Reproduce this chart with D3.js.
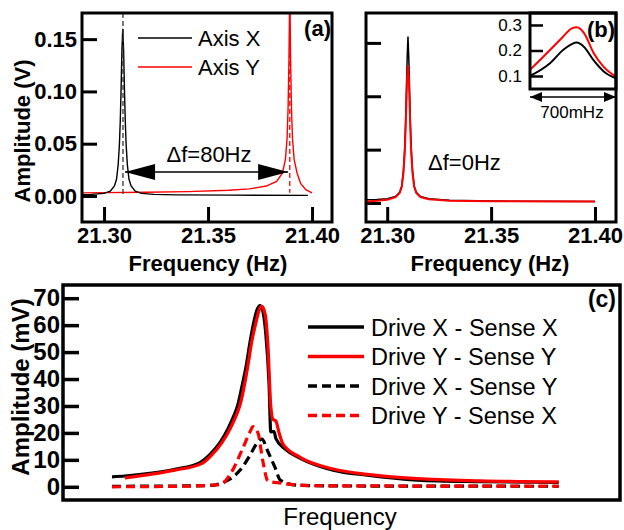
<!DOCTYPE html>
<html>
<head>
<meta charset="utf-8">
<script src="https://cdnjs.cloudflare.com/ajax/libs/d3/7.8.5/d3.min.js"></script>
<style>
  body { margin: 0; background: #fff; }
  svg { display: block; font-family: "Liberation Sans", Arial, sans-serif; }
  .axis text { fill: #000; }
  .axis line { stroke: #000; }
</style>
</head>
<body>
<svg width="624" height="530"></svg>
<script>
// (a) separate resonances
var freqAxisX = [21.2894, 21.294, 21.300, 21.303, 21.305, 21.306, 21.3068, 21.3074, 21.3078, 21.3082, 21.3086, 21.3090, 21.3094, 21.3098, 21.3102, 21.3106, 21.3112, 21.312, 21.313, 21.315, 21.318, 21.324, 21.335, 21.36, 21.398];
var ampAxisX  = [0.0012, 0.0015, 0.0025, 0.0045, 0.0095, 0.016, 0.030, 0.050, 0.072, 0.103, 0.140, 0.160, 0.140, 0.103, 0.072, 0.050, 0.030, 0.016, 0.0095, 0.0045, 0.0025, 0.0015, 0.001, 0.0008, 0.0006];
var freqAxisY = [21.2894, 21.30, 21.32, 21.34, 21.36, 21.37, 21.378, 21.383, 21.3858, 21.3872, 21.388, 21.3885, 21.3889, 21.3893, 21.3897, 21.3901, 21.3906, 21.3914, 21.3928, 21.3945, 21.397, 21.400];
var ampAxisY  = [0.0030, 0.0032, 0.0036, 0.0042, 0.0055, 0.0068, 0.0095, 0.014, 0.022, 0.035, 0.055, 0.085, 0.13, 0.20, 0.13, 0.085, 0.055, 0.035, 0.022, 0.012, 0.006, 0.003];
var peakX = 21.3091, peakY = 21.3893;

// (b) matched resonances
var freqMatched = [21.2898, 21.295, 21.300, 21.304, 21.306, 21.307, 21.3078, 21.3084, 21.3088, 21.3092, 21.3096, 21.310, 21.3104, 21.3108, 21.3112, 21.3116, 21.3122, 21.313, 21.314, 21.316, 21.32, 21.33, 21.35, 21.40];
var ampMatchedX = [0.003, 0.0033, 0.004, 0.006, 0.010, 0.016, 0.030, 0.050, 0.072, 0.103, 0.135, 0.156, 0.135, 0.103, 0.072, 0.050, 0.030, 0.016, 0.010, 0.006, 0.004, 0.0025, 0.0018, 0.0015];
var ampMatchedY = [0.0015, 0.002, 0.003, 0.0055, 0.0095, 0.015, 0.028, 0.046, 0.066, 0.092, 0.118, 0.129, 0.118, 0.092, 0.066, 0.046, 0.028, 0.015, 0.0095, 0.0055, 0.0035, 0.0022, 0.0016, 0.0015];

// (b) inset, 700 mHz window
var insetFreq  = [0, 0.163, 0.269, 0.34, 0.38, 0.44, 0.52, 0.60, 0.7];
var insetAmpX  = [0.100, 0.150, 0.202, 0.225, 0.231, 0.214, 0.160, 0.118, 0.091];
var insetAmpY  = [0.124, 0.202, 0.254, 0.287, 0.291, 0.268, 0.188, 0.136, 0.097];
var insetTicks = [0.1, 0.2, 0.3];

// (c) drive / sense combinations (arbitrary frequency units)
var freqXX = [8.8, 11.1, 15.6, 20.1, 24.6, 26.4, 28.2, 29.6, 30.7, 31.4, 32.1, 32.9, 33.6, 34.3, 34.8, 35.4, 35.9, 36.4, 37.0, 37.3, 37.9, 38.2, 39.9, 42.5, 48.5, 54.6, 63.6, 74.9, 89.0];
var ampXX  = [3.7, 4.0, 5.0, 6.5, 9.0, 12, 16.5, 21.5, 26.5, 30.5, 37, 45, 54, 61.5, 65.5, 67.3, 65, 57, 38, 20.4, 20.5, 18, 14, 10.7, 6.2, 4.3, 2.5, 1.9, 1.6];
var freqYY = [11.1, 15.6, 20.1, 25.0, 26.8, 28.5, 30.0, 31.1, 31.8, 32.5, 33.2, 33.9, 34.7, 35.2, 35.7, 36.3, 36.8, 37.3, 37.7, 38.2, 38.8, 39.5, 42.5, 48.5, 54.6, 63.6, 74.9, 89.0];
var ampYY  = [3.3, 4.6, 6.2, 8.7, 12, 16.3, 21.5, 26.5, 30.5, 37, 45, 54, 61.5, 65.5, 67, 64, 52, 30, 25, 24.5, 20, 15.8, 11, 6.6, 4.6, 3.0, 2.2, 1.8];
var freqXY = [8.8, 21.0, 26.4, 29.1, 31.8, 33.6, 34.6, 35.7, 36.8, 38.1, 39.0, 42.0, 51.5, 89.0];
var ampXY  = [0.2, 0.3, 0.5, 1.9, 6.2, 11.8, 15.5, 17.7, 13, 7, 2.5, 0.6, 0.3, 0.2];
var freqYX = [8.8, 21.0, 28.2, 30.3, 32.3, 33.6, 34.1, 35.0, 35.9, 36.8, 39.0, 44.9, 89.0];
var ampYX  = [0.0, 0.2, 0.8, 5.6, 14.4, 20.5, 22.3, 20, 9.3, 2.1, 1.4, 0.4, 0.2];
var legendC = ["Drive X - Sense X", "Drive Y - Sense Y", "Drive X - Sense Y", "Drive Y - Sense X"];

var svg = d3.select("svg");
var RED = "#ff0000";

function pairs(xs, ys) { return d3.zip(xs, ys); }

function frame(g, x0, y0, x1, y1, w) {
  g.append("rect")
    .attr("x", x0).attr("y", y0)
    .attr("width", x1 - x0).attr("height", y1 - y0)
    .attr("fill", "none").attr("stroke", "#000").attr("stroke-width", w);
}

function clip(id, x0, y0, x1, y1) {
  svg.append("clipPath").attr("id", id)
    .append("rect").attr("x", x0).attr("y", y0).attr("width", x1 - x0).attr("height", y1 - y0);
}

function arrowHead(g, tipX, y, dir, len, half) {
  g.append("path")
    .attr("d", "M" + tipX + "," + y + "L" + (tipX + dir * len) + "," + (y - half) + "L" + (tipX + dir * len) + "," + (y + half) + "Z")
    .attr("fill", "#000");
}

// ---------- panel (a) ----------
var xa = d3.scaleLinear().domain([21.2894, 21.4096]).range([82, 332]);
var ya = d3.scaleLinear().domain([-0.0249, 0.175]).range([222, 13]);
var ga = svg.append("g");
clip("clipA", 82, 13, 332, 222);

ga.append("g").attr("class", "axis")
  .attr("transform", "translate(82,0)")
  .call(d3.axisLeft(ya).tickValues([0, 0.05, 0.10, 0.15]).tickFormat(d3.format(".2f")).tickSize(-15).tickPadding(5))
  .call(function(a) {
    a.select(".domain").remove();
    a.selectAll("line").attr("stroke-width", 3);
    a.selectAll("text").attr("font-size", 22).attr("font-weight", "bold").attr("font-family", null);
  });
ga.append("g").attr("class", "axis")
  .attr("transform", "translate(0,222)")
  .call(d3.axisBottom(xa).tickValues([21.30, 21.35, 21.40]).tickFormat(d3.format(".2f")).tickSize(-15).tickPadding(5))
  .call(function(a) {
    a.select(".domain").remove();
    a.selectAll("line").attr("stroke-width", 3);
    a.selectAll("text").attr("font-size", 22).attr("font-weight", "bold").attr("font-family", null);
  });

var lineA = d3.line().x(function(d) { return xa(d[0]); }).y(function(d) { return ya(d[1]); });
var plotA = ga.append("g").attr("clip-path", "url(#clipA)");
plotA.append("path").datum(pairs(freqAxisY, ampAxisY))
  .attr("d", lineA).attr("fill", "none").attr("stroke", RED).attr("stroke-width", 1.4);
plotA.append("path").datum(pairs(freqAxisX, ampAxisX))
  .attr("d", lineA).attr("fill", "none").attr("stroke", "#000").attr("stroke-width", 1.4);

// resonance markers
plotA.append("line").attr("x1", xa(peakX)).attr("x2", xa(peakX)).attr("y1", 13).attr("y2", ya(0))
  .attr("stroke", "#333").attr("stroke-width", 1.3).attr("stroke-dasharray", "5,3");
plotA.append("line").attr("x1", xa(peakY)).attr("x2", xa(peakY)).attr("y1", 13).attr("y2", ya(0.003))
  .attr("stroke", RED).attr("stroke-width", 1.3).attr("stroke-dasharray", "5,3");

// delta f arrow
var arrY = ya(0.023);
ga.append("line").attr("x1", xa(21.3101)).attr("x2", xa(21.3885)).attr("y1", arrY).attr("y2", arrY)
  .attr("stroke", "#000").attr("stroke-width", 1.5);
arrowHead(ga, xa(21.3101), arrY, 1, 30, 8);
arrowHead(ga, xa(21.3885), arrY, -1, 30, 8);
ga.append("text").attr("x", 209).attr("y", 162).attr("text-anchor", "middle")
  .attr("font-size", 22).text("\u0394f=80Hz");

// legend (a)
[["Axis X", "#000", 38], ["Axis Y", RED, 67]].forEach(function(l) {
  ga.append("line").attr("x1", 138).attr("x2", 192).attr("y1", l[2]).attr("y2", l[2])
    .attr("stroke", l[1]).attr("stroke-width", 1.5);
  ga.append("text").attr("x", 198).attr("y", l[2] + 8).attr("font-size", 22).text(l[0]);
});
ga.append("text").attr("x", 331).attr("y", 36).attr("text-anchor", "end")
  .attr("font-size", 22).attr("font-weight", "bold").text("(a)");
frame(ga, 82, 13, 332, 222, 3);

ga.append("text").attr("x", 208).attr("y", 271).attr("text-anchor", "middle")
  .attr("font-size", 22).attr("font-weight", "bold").text("Frequency (Hz)");
ga.append("text").attr("transform", "translate(22,131) rotate(-90)")
  .attr("text-anchor", "middle").attr("dominant-baseline", "central")
  .attr("font-size", 22).attr("font-weight", "bold").text("Amplitude (V)");

// ---------- panel (b) ----------
var xb = d3.scaleLinear().domain([21.2898, 21.4101]).range([366, 616]);
var yb = d3.scaleLinear().domain([-0.0178, 0.178]).range([222, 13]);
var gb = svg.append("g");
clip("clipB", 366, 13, 616, 222);

gb.append("g").attr("class", "axis")
  .attr("transform", "translate(366,0)")
  .call(d3.axisLeft(yb).tickValues([0, 0.05, 0.10, 0.15]).tickFormat("").tickSize(-15))
  .call(function(a) {
    a.select(".domain").remove();
    a.selectAll("line").attr("stroke-width", 3);
  });
gb.append("g").attr("class", "axis")
  .attr("transform", "translate(0,222)")
  .call(d3.axisBottom(xb).tickValues([21.30, 21.35, 21.40]).tickFormat(d3.format(".2f")).tickSize(-15).tickPadding(5))
  .call(function(a) {
    a.select(".domain").remove();
    a.selectAll("line").attr("stroke-width", 3);
    a.selectAll("text").attr("font-size", 22).attr("font-weight", "bold").attr("font-family", null);
  });

var lineB = d3.line().x(function(d) { return xb(d[0]); }).y(function(d) { return yb(d[1]); });
var plotB = gb.append("g").attr("clip-path", "url(#clipB)");
plotB.append("path").datum(pairs(freqMatched, ampMatchedX))
  .attr("d", lineB).attr("fill", "none").attr("stroke", "#000").attr("stroke-width", 1.5);
plotB.append("path").datum(pairs(freqMatched, ampMatchedY))
  .attr("d", lineB).attr("fill", "none").attr("stroke", RED).attr("stroke-width", 2);

gb.append("text").attr("x", 428).attr("y", 170).attr("font-size", 22).text("\u0394f=0Hz");

// inset
var xi = d3.scaleLinear().domain([0, 0.7]).range([530, 616]);
var yi = d3.scaleLinear().domain([0.049, 0.347]).range([89, 13]);
gb.append("rect").attr("x", 530).attr("y", 13).attr("width", 86).attr("height", 76).attr("fill", "#fff");
gb.append("g").attr("class", "axis")
  .attr("transform", "translate(530,0)")
  .call(d3.axisLeft(yi).tickValues(insetTicks).tickFormat(d3.format(".1f")).tickSize(-13).tickPadding(8))
  .call(function(a) {
    a.select(".domain").remove();
    a.selectAll("line").attr("stroke-width", 2.5);
    a.selectAll("text").attr("font-size", 17).attr("font-family", null);
  });
var lineI = d3.line().curve(d3.curveMonotoneX)
  .x(function(d) { return xi(d[0]); }).y(function(d) { return yi(d[1]); });
gb.append("path").datum(pairs(insetFreq, insetAmpX))
  .attr("d", lineI).attr("fill", "none").attr("stroke", "#000").attr("stroke-width", 2);
gb.append("path").datum(pairs(insetFreq, insetAmpY))
  .attr("d", lineI).attr("fill", "none").attr("stroke", RED).attr("stroke-width", 2);
frame(gb, 530, 13, 616, 89, 3);
gb.append("text").attr("x", 615).attr("y", 37).attr("text-anchor", "end")
  .attr("font-size", 22).attr("font-weight", "bold").text("(b)");

var insArrY = 97;
gb.append("line").attr("x1", xi(0)).attr("x2", xi(0.7)).attr("y1", insArrY).attr("y2", insArrY)
  .attr("stroke", "#000").attr("stroke-width", 1.5);
arrowHead(gb, xi(0), insArrY, 1, 12, 5);
arrowHead(gb, xi(0.7), insArrY, -1, 12, 5);
gb.append("text").attr("x", 572).attr("y", 118).attr("text-anchor", "middle")
  .attr("font-size", 17).text("700mHz");

frame(gb, 366, 13, 616, 222, 3);
gb.append("text").attr("x", 490).attr("y", 271).attr("text-anchor", "middle")
  .attr("font-size", 22).attr("font-weight", "bold").text("Frequency (Hz)");

// ---------- panel (c) ----------
var xc = d3.scaleLinear().domain([0, 100]).range([63, 620]);
var yc = d3.scaleLinear().domain([-4.9, 74.9]).range([500, 285]);
var gc = svg.append("g");

gc.append("g").attr("class", "axis")
  .attr("transform", "translate(63,0)")
  .call(d3.axisLeft(yc).tickValues(d3.range(0, 71, 10)).tickSize(-16).tickPadding(3))
  .call(function(a) {
    a.select(".domain").remove();
    a.selectAll("line").attr("stroke-width", 3.5);
    a.selectAll("text").attr("font-size", 24).attr("font-weight", "bold").attr("font-family", null);
  });

var lineC = d3.line().curve(d3.curveMonotoneX)
  .x(function(d) { return xc(d[0]); }).y(function(d) { return yc(d[1]); });
var seriesC = [
  { data: pairs(freqXY, ampXY), color: "#000", dash: "9,5" },
  { data: pairs(freqYX, ampYX), color: RED, dash: "9,5" },
  { data: pairs(freqXX, ampXX), color: "#000", dash: null },
  { data: pairs(freqYY, ampYY), color: RED, dash: null }
];
seriesC.forEach(function(s) {
  gc.append("path").datum(s.data)
    .attr("d", lineC).attr("fill", "none")
    .attr("stroke", s.color).attr("stroke-width", 3.2)
    .attr("stroke-dasharray", s.dash);
});

var legStyle = [["#000", null], [RED, null], ["#000", "9,5"], [RED, "9,5"]];
legendC.forEach(function(name, i) {
  var yy = 327 + i * 29.5;
  gc.append("line").attr("x1", 308).attr("x2", 364).attr("y1", yy).attr("y2", yy)
    .attr("stroke", legStyle[i][0]).attr("stroke-width", 3.5).attr("stroke-dasharray", legStyle[i][1]);
  gc.append("text").attr("x", 371).attr("y", yy + 8.5).attr("font-size", 23.5).text(name);
});

gc.append("text").attr("x", 616).attr("y", 307).attr("text-anchor", "end")
  .attr("font-size", 23).attr("font-weight", "bold").text("(c)");
frame(gc, 63, 285, 620, 500, 3.5);

gc.append("text").attr("x", 340).attr("y", 525).attr("text-anchor", "middle")
  .attr("font-size", 24).text("Frequency");
gc.append("text").attr("transform", "translate(20,387) rotate(-90)")
  .attr("text-anchor", "middle").attr("dominant-baseline", "central")
  .attr("font-size", 24).attr("font-weight", "bold").text("Amplitude (mV)");
</script>
</body>
</html>
